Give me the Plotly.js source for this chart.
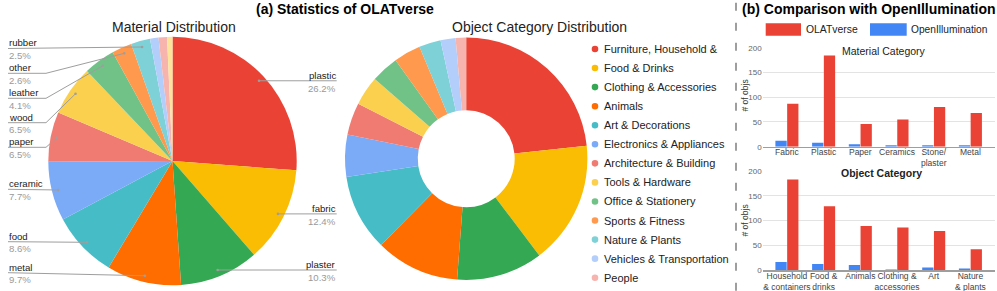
<!DOCTYPE html>
<html><head><meta charset="utf-8">
<script src="https://cdn.plot.ly/plotly-3.0.1.min.js"></script>
<style>html,body{margin:0;padding:0;background:#fff}#chart{width:997px;height:291px}</style>
</head><body><div id="chart"></div>
<script>
// ---------------- DATA ----------------
const materialLabels = ['plastic','fabric','plaster','metal','food','ceramic','paper','wood','leather','other','rubber','glass','foam','wax'];
const materialPct    = [26.2, 12.4, 10.3, 9.7, 8.6, 7.7, 6.5, 6.5, 4.1, 2.6, 2.5, 1.1, 1.1, 0.7];
const materialNamedCount = 11; // slices that carry a label

const categoryLabels = ['Furniture, Household &','Food & Drinks','Clothing & Accessories','Animals','Art & Decorations','Electronics & Appliances','Architecture & Building','Tools & Hardware','Office & Stationery','Sports & Fitness','Nature & Plants','Vehicles & Transportation','People'];
const categoryPct    = [23.3, 16.4, 11.5, 11.2, 10.2, 5.6, 4.3, 3.9, 3.7, 3.6, 2.9, 2.0, 1.4];

const materialBarCats     = ['Fabric','Plastic','Paper','Ceramics','Stone/plaster','Metal'];
const materialBarTicks    = ['Fabric','Plastic','Paper','Ceramics','Stone/<br>plaster','Metal'];
const olatMaterial        = [87, 184, 46, 55, 80, 68];
const openIllumMaterial   = [12, 8, 5, 3, 3, 3];

const objectBarCats       = ['Household & containers','Food & drinks','Animals','Clothing & accessories','Art','Nature & plants'];
const objectBarTicks      = ['Household<br>& containers','Food &<br>drinks','Animals','Clothing &<br>accessories','Art','Nature<br>& plants'];
const olatObject          = [183, 129, 89, 86, 79, 42];
const openIllumObject     = [16, 12, 10, 1, 5, 3];

const yTicks = [0, 50, 100, 150, 200];

// ---------------- STYLE / LAYOUT ----------------
const W = 997, H = 291;
const px = x => x / W;
const py = y => 1 - y / H;
const FONT = 'Liberation Sans, Arial, sans-serif';
const palette = ['#ea4335','#fbbc04','#34a853','#ff6d01','#46bdc6','#7baaf7','#f07b72','#fcd04f','#71c287','#ff994d','#7ed1d7','#b3cefb','#f7b4ae','#fde49b'];

const pie1 = {cx: 172.5, cy: 161, r: 124.2};
const pie2 = {cx: 466.2, cy: 158.7, r: 121.2};

const leftLineY = {metal: 272.7, food: 241.7, ceramic: 189.3, paper: 147.3, wood: 122.7, leather: 98.3, other: 73.3, rubber: 48.5};
const elbowed = {paper: true, wood: true, leather: true, other: true};

const shapes = [];
const annotations = [];
function ann(text, x, y, o) {
  o = o || {};
  annotations.push({text, x: px(x), y: py(y), xref: 'paper', yref: 'paper', showarrow: false,
    xanchor: o.xanchor || 'center', yanchor: 'middle', textangle: o.angle || 0,
    font: {family: FONT, size: o.size || 10, color: o.color || '#222'}});
}
function seg(x0, y0, x1, y1, color, width, dash) {
  shapes.push({type: 'line', xref: 'paper', yref: 'paper', x0: px(x0), y0: py(y0), x1: px(x1), y1: py(y1),
    line: {color, width, dash: dash || 'solid'}});
}
function dot(x, y, r, color) {
  shapes.push({type: 'circle', xref: 'paper', yref: 'paper', x0: px(x - r), x1: px(x + r), y0: py(y + r), y1: py(y - r),
    fillcolor: color, line: {width: 0}});
}

// material pie leader lines and labels
const total = materialPct.reduce((a, b) => a + b, 0);
let cum = 0;
for (let i = 0; i < materialPct.length; i++) {
  const v = materialPct[i];
  if (i < materialNamedCount) {
    const th = 2 * Math.PI * (cum + v / 2) / total;
    const R = pie1.r * 0.95;
    const ax = pie1.cx + R * Math.sin(th), ay = pie1.cy - R * Math.cos(th);
    const name = materialLabels[i], pct = v.toFixed(1) + '%';
    const lc = '#9e9e9e';
    if (ax > pie1.cx) {
      seg(ax, ay, 336.7, ay, lc, 1);
      ann(name, 337.5, ay - 5.6, {xanchor: 'right', size: 9.6, color: '#222'});
      ann(pct, 337.5, ay + 7.3, {xanchor: 'right', size: 9.6, color: '#9a9a9a'});
    } else {
      const ly = leftLineY[name];
      if (elbowed[name]) { seg(ax, ay, 46, ly, lc, 1); seg(46, ly, 8, ly, lc, 1); }
      else seg(ax, ay, 8, ly, lc, 1);
      ann(name, 7, ly - 5.7, {xanchor: 'left', size: 9.6, color: '#222'});
      ann(pct, 7, ly + 7.2, {xanchor: 'left', size: 9.6, color: '#9a9a9a'});
    }
    dot(ax, ay, 1.3, '#9e9e9e');
  }
  cum += v;
}

// donut legend
categoryLabels.forEach((lab, i) => {
  const y = 49 + 19.06 * i;
  dot(595, y, 3.3, palette[i]);
  ann(lab, 601.5, y, {xanchor: 'left', size: 11, color: '#222'});
});

// titles
ann('<b>(a) Statistics of OLATverse</b>', 345, 9.5, {size: 14, color: '#000'});
ann('<b>(b) Comparison with OpenIllumination</b>', 868.5, 9.5, {size: 14, color: '#000'});
ann('Material Distribution', 174, 26.7, {size: 14, color: '#222'});
ann('Object Category Distribution', 539, 26.7, {size: 14, color: '#222'});
ann('Material Category', 884.3, 50.5, {size: 10.5, color: '#222'});
ann('<b>Object Category</b>', 881.7, 172.7, {size: 10.5, color: '#222'});
ann('# of objs', 744.5, 96, {size: 8.5, color: '#333', angle: -90});
ann('# of objs', 744.5, 221, {size: 8.5, color: '#333', angle: -90});

// bar legend
shapes.push({type: 'rect', xref: 'paper', yref: 'paper', x0: px(765.7), x1: px(801), y0: py(35.7), y1: py(23.3), fillcolor: '#ea4335', line: {width: 0}});
shapes.push({type: 'rect', xref: 'paper', yref: 'paper', x0: px(870), x1: px(906.7), y0: py(35.7), y1: py(23.3), fillcolor: '#4285f4', line: {width: 0}});
ann('OLATverse', 804, 30, {xanchor: 'left', size: 10.4, color: '#222'});
ann('OpenIllumination', 909, 30, {xanchor: 'left', size: 10.2, color: '#222'});

// dashed separator
seg(736, 2.7, 736, 291, '#9e9e9e', 2, '8px,12px');

// ---------------- TRACES ----------------
const traces = [
  {type: 'pie', labels: materialLabels, values: materialPct, sort: false, direction: 'clockwise', rotation: 0,
   textinfo: 'none', hoverinfo: 'none', showlegend: false, marker: {colors: palette, line: {width: 0}},
   domain: {x: [px(pie1.cx - pie1.r), px(pie1.cx + pie1.r)], y: [py(pie1.cy + pie1.r), py(pie1.cy - pie1.r)]}},
  {type: 'pie', labels: categoryLabels, values: categoryPct, hole: 0.4, sort: false, direction: 'clockwise', rotation: 0,
   textinfo: 'none', hoverinfo: 'none', showlegend: false, marker: {colors: palette, line: {width: 0}},
   domain: {x: [px(pie2.cx - pie2.r), px(pie2.cx + pie2.r)], y: [py(pie2.cy + pie2.r), py(pie2.cy - pie2.r)]}},
  {type: 'bar', name: 'OpenIllumination', x: materialBarCats, y: openIllumMaterial, xaxis: 'x', yaxis: 'y', marker: {color: '#4285f4'}, showlegend: false, hoverinfo: 'none'},
  {type: 'bar', name: 'OLATverse', x: materialBarCats, y: olatMaterial, xaxis: 'x', yaxis: 'y', marker: {color: '#ea4335'}, showlegend: false, hoverinfo: 'none'},
  {type: 'bar', name: 'OpenIllumination', x: objectBarCats, y: openIllumObject, xaxis: 'x2', yaxis: 'y2', marker: {color: '#4285f4'}, showlegend: false, hoverinfo: 'none'},
  {type: 'bar', name: 'OLATverse', x: objectBarCats, y: olatObject, xaxis: 'x2', yaxis: 'y2', marker: {color: '#ea4335'}, showlegend: false, hoverinfo: 'none'}
];

const xBase = {domain: [px(762.7), px(995)], range: [-0.66, 5.67], showgrid: false, zeroline: false, showline: true,
  linecolor: '#9e9e9e', linewidth: 1.5, ticks: '', tickangle: 0, ticklabelstandoff: -3,
  tickfont: {family: FONT, size: 8.5, color: '#444'}, fixedrange: true};
const yBase = {range: [0, 200], tickvals: yTicks, showgrid: true, gridcolor: '#e3e3e3', gridwidth: 1, zeroline: false,
  showline: false, ticks: '', tickfont: {family: FONT, size: 8, color: '#666'}, fixedrange: true};

const layout = {
  width: W, height: H, margin: {l: 0, r: 0, t: 0, b: 0}, paper_bgcolor: '#fff', plot_bgcolor: '#fff',
  showlegend: false, barmode: 'group', bargap: 0.36, bargroupgap: 0.04,
  font: {family: FONT},
  xaxis: Object.assign({}, xBase, {anchor: 'y', tickvals: materialBarCats, ticktext: materialBarTicks}),
  yaxis: Object.assign({}, yBase, {anchor: 'x', domain: [py(146.7), py(47.7)]}),
  xaxis2: Object.assign({}, xBase, {anchor: 'y2', tickvals: objectBarCats, ticktext: objectBarTicks}),
  yaxis2: Object.assign({}, yBase, {anchor: 'x2', domain: [py(270), py(171)]}),
  shapes, annotations
};

Plotly.newPlot('chart', traces, layout, {staticPlot: true, displayModeBar: false});
</script></body></html>
